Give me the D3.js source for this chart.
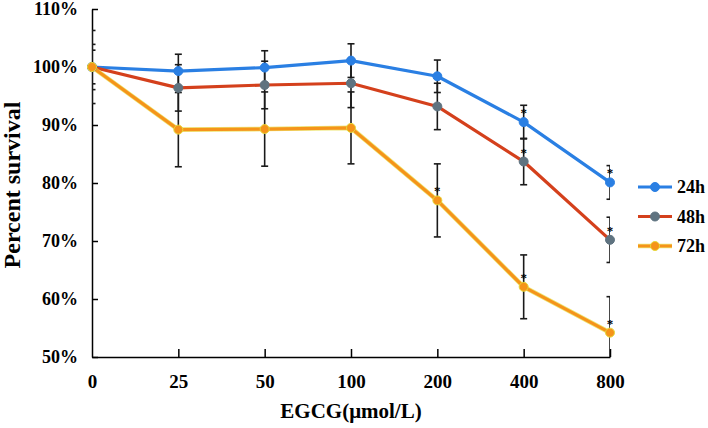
<!DOCTYPE html>
<html>
<head>
<meta charset="utf-8">
<script src="https://cdn.jsdelivr.net/npm/d3@7"></script>
<style>
  html, body { margin: 0; padding: 0; background: #fff; }
  svg { display: block; }
  text { font-family: "Liberation Serif", "Times New Roman", serif; font-weight: bold; fill: #000; }
</style>
</head>
<body>
<svg id="chart" width="708" height="428"></svg>
<script>
// ---- data ----
const categories = ["0", "25", "50", "100", "200", "400", "800"];
const yTicks = [50, 60, 70, 80, 90, 100, 110];
const seriesNames = ["24h", "48h", "72h"];
const values24 = [100, 99.3, 99.9, 101.1, 98.4, 90.5, 80.1];
const values48 = [100, 96.4, 96.9, 97.2, 93.2, 83.7, 70.2];
const values72 = [100, 89.2, 89.3, 89.5, 77.0, 62.1, 54.2];
const err24 = [2.9, 2.9, 2.9, 2.9, 2.8, 2.9, 2.9];
const err48 = [3.9, 4.0, 4.1, 4.2, 4.0, 4.0, 3.9];
const err72 = [6.3, 6.4, 6.4, 6.2, 6.3, 5.5, 6.2];
const star24 = [0, 0, 0, 0, 0, 1, 1];
const star48 = [0, 0, 0, 0, 0, 1, 1];
const star72 = [0, 0, 0, 0, 1, 1, 1];
const xTitle = "EGCG(μmol/L)";
const yTitle = "Percent survival";

// ---- styles ----
const styles = {
  "24h": { line: "#2a7fe3", halo: null, marker: "#2a7fe3", ring: "#2a7fe3" },
  "48h": { line: "#d4401c", halo: null, marker: "#5f7380", ring: "#5f7380" },
  "72h": { line: "#f5941a", halo: "#e6dc3a", marker: "#f5941a", ring: "#e6d83a" }
};

const series = [
  { name: "24h", values: values24, err: err24, star: star24 },
  { name: "48h", values: values48, err: err48, star: star48 },
  { name: "72h", values: values72, err: err72, star: star72 }
];

const svg = d3.select("#chart");
const pLeft = 92, pRight = 610, pTop = 9, pBottom = 357;

const x = d3.scalePoint().domain(categories).range([pLeft, pRight]);
const y = d3.scaleLinear().domain([50, 110]).range([pBottom, pTop]);

// clip for error bars
svg.append("defs").append("clipPath").attr("id", "plotclip")
  .append("rect").attr("x", pLeft).attr("y", pTop).attr("width", pRight - pLeft).attr("height", pBottom - pTop);

// axes
const yAxis = d3.axisLeft(y).tickValues(yTicks).tickFormat(d => d + "%")
  .tickSizeInner(-6).tickSizeOuter(0).tickPadding(14);
const gy = svg.append("g").attr("transform", `translate(${pLeft},0)`).call(yAxis);
gy.selectAll("text").style("font-size", "18px").style("font-family", '"Liberation Serif", serif').style("font-weight", "bold");
gy.selectAll("line, path").attr("stroke", "#000").attr("stroke-width", 1.5);

const xAxis = d3.axisBottom(x).tickSizeInner(-8).tickSizeOuter(0).tickPadding(18);
const gx = svg.append("g").attr("transform", `translate(0,${pBottom})`).call(xAxis);
gx.selectAll("text").style("font-size", "19px").style("font-family", '"Liberation Serif", serif').style("font-weight", "bold");
gx.selectAll("line, path").attr("stroke", "#000").attr("stroke-width", 1.5);
gx.selectAll(".tick").filter(d => d === categories[0]).select("line").remove();

// titles
svg.append("text").attr("x", (pLeft + pRight) / 2).attr("y", 418)
  .attr("text-anchor", "middle").style("font-size", "21px").text(xTitle);
svg.append("text").attr("transform", `translate(20,${(pTop + pBottom) / 2 + 2}) rotate(-90)`)
  .attr("text-anchor", "middle").style("font-size", "24px").text(yTitle);

// lines
const lineGen = d3.line().x((d, i) => x(categories[i])).y(d => y(d));
const gLines = svg.append("g");
series.forEach(s => {
  const st = styles[s.name];
  if (st.halo) {
    gLines.append("path").attr("d", lineGen(s.values)).attr("fill", "none")
      .attr("stroke", st.halo).attr("stroke-width", 4.6).attr("stroke-opacity", 0.7);
  }
  gLines.append("path").attr("d", lineGen(s.values)).attr("fill", "none")
    .attr("stroke", st.line).attr("stroke-width", 3.2).attr("stroke-linejoin", "round");
});

// error bars
const gErr = svg.append("g").attr("clip-path", "url(#plotclip)").attr("stroke", "#1a1a1a").attr("stroke-width", 1.6);
series.forEach(s => {
  s.values.forEach((v, i) => {
    const cx = x(categories[i]);
    const y1 = y(v + s.err[i]), y2 = y(v - s.err[i]);
    gErr.append("line").attr("x1", cx).attr("x2", cx).attr("y1", y1).attr("y2", y2);
    gErr.append("line").attr("x1", cx - 3.5).attr("x2", cx + 3.5).attr("y1", y1).attr("y2", y1);
    gErr.append("line").attr("x1", cx - 3.5).attr("x2", cx + 3.5).attr("y1", y2).attr("y2", y2);
  });
});

// markers
const gMk = svg.append("g");
series.forEach(s => {
  const st = styles[s.name];
  s.values.forEach((v, i) => {
    gMk.append("circle").attr("cx", x(categories[i])).attr("cy", y(v)).attr("r", 4.5)
      .attr("fill", st.marker).attr("stroke", st.ring).attr("stroke-width", 1);
  });
});

// significance stars
series.forEach(s => {
  s.values.forEach((v, i) => {
    if (s.star[i]) {
      svg.append("text").attr("x", x(categories[i])).attr("y", y(v) - 5)
        .attr("text-anchor", "middle").style("font-size", "13px").style("font-weight", "bold").text("*");
    }
  });
});

// legend
const legend = svg.append("g");
seriesNames.forEach((name, k) => {
  const st = styles[name];
  const ly = 187 + k * 29.5;
  if (st.halo) {
    legend.append("line").attr("x1", 638).attr("x2", 672).attr("y1", ly).attr("y2", ly)
      .attr("stroke", st.halo).attr("stroke-width", 4.6).attr("stroke-opacity", 0.7);
  }
  legend.append("line").attr("x1", 638).attr("x2", 672).attr("y1", ly).attr("y2", ly)
    .attr("stroke", st.line).attr("stroke-width", 3.2);
  legend.append("circle").attr("cx", 655).attr("cy", ly).attr("r", 4.5)
    .attr("fill", st.marker).attr("stroke", st.ring).attr("stroke-width", 1);
  legend.append("text").attr("x", 677).attr("y", ly).attr("dy", "0.35em")
    .style("font-size", "18px").text(name);
});
</script>
</body>
</html>
